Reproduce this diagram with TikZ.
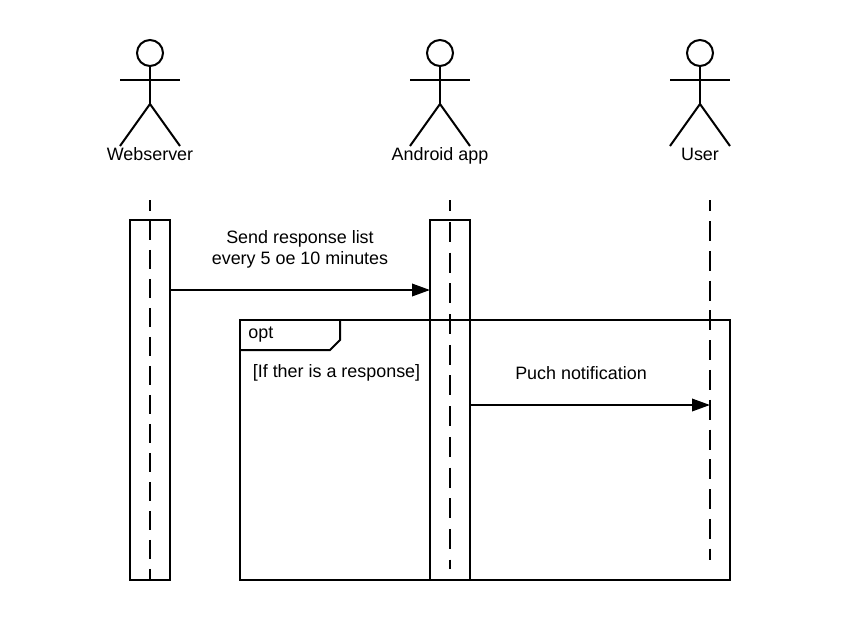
\documentclass[tikz,border=0pt]{standalone}
\usepackage{fontspec}
\setmainfont{Liberation Sans}
\usetikzlibrary{arrows.meta}
\tikzset{
	thick line/.style={line width=0.04cm},
	label text/.style={font=\fontsize{10.2pt}{12pt}\selectfont,inner sep=0pt,align=center},
	bar/.style={draw,thick line,rectangle,outer sep=0pt,minimum width=0.8cm,minimum height=7.2cm},
	head/.style={draw,thick line,circle,outer sep=0pt,minimum size=0.52cm,inner sep=0pt},
	msg/.style={thick line,-{Triangle[length=0.36cm,width=0.25cm]}},
	webline/.style={thick line,dash pattern=on 0.38cm off 0.2cm,dash phase=0.16cm},
	appline/.style={thick line,dash pattern=on 0.4cm off 0.214cm,dash phase=0.174cm},
	userline/.style={thick line,dash pattern=on 0.4cm off 0.196cm,dash phase=0.176cm},
	actor/.pic={
		\node[head] (-head) at (0,53) {};
		\coordinate (-hip) at (0,104);
		\coordinate (-lefthand) at (-30,80);
		\coordinate (-righthand) at (30,80);
		\coordinate (-leftfoot) at (-30,146);
		\coordinate (-rightfoot) at (30,146);
		\draw[thick line] (-head) -- (-hip);
		\draw[thick line] (-lefthand) -- (-righthand);
		\draw[thick line] (-leftfoot) -- (-hip) -- (-rightfoot);
	}
}
\begin{document}
\begin{tikzpicture}[x=0.02cm,y=-0.02cm]
	\useasboundingbox (0,0) rectangle (850,620);

	\pic (web) at (150,0) {actor};
	\pic (app) at (440,0) {actor};
	\pic (user) at (700,0) {actor};

	\node[label text,anchor=base] (weblabel) at (150,160.5) {Webserver};
	\node[label text,anchor=base] (applabel) at (440,160.5) {Android app};
	\node[label text,anchor=base] (userlabel) at (700,160.5) {User};

	\node[bar] (webbar) at (150,400) {};
	\node[bar] (appbar) at (450,400) {};

	\coordinate (webtop) at (150,200);
	\coordinate (webend) at (150,580);
	\coordinate (apptop) at (450,200);
	\coordinate (append) at (450,569);
	\coordinate (usertop) at (710,200);
	\coordinate (userend) at (710,560);

	\draw[webline] (webtop) -- (webend);
	\draw[appline] (apptop) -- (append);
	\draw[userline] (usertop) -- (userend);

	% opt frame
	\node[draw,thick line,rectangle,outer sep=0pt,minimum width=9.8cm,minimum height=5.2cm] (optframe) at (485,450) {};
	\coordinate (tabA) at (240,350);
	\coordinate (tabB) at (330,350);
	\coordinate (tabC) at (340,340);
	\coordinate (tabD) at (340,320);
	\draw[thick line] (tabA) -- (tabB) -- (tabC) -- (tabD);
	\node[label text,anchor=west] (opttext) at (248,335) {opt};
	\node[label text,anchor=west] (guard) at (252.5,372.5) {[If ther is a response]};

	% messages
	\coordinate (sendfrom) at (170,290);
	\coordinate (sendto) at (430,290);
	\draw[msg] (sendfrom) -- (sendto);
	\node[label text] (sendtext) at (300,249) {Send response list\\every 5 oe 10 minutes};

	\coordinate (pushfrom) at (470,405);
	\coordinate (pushto) at (710,405);
	\draw[msg] (pushfrom) -- (pushto);
	\node[label text] (pushtext) at (581,373.5) {Puch notification};
\end{tikzpicture}
\end{document}
